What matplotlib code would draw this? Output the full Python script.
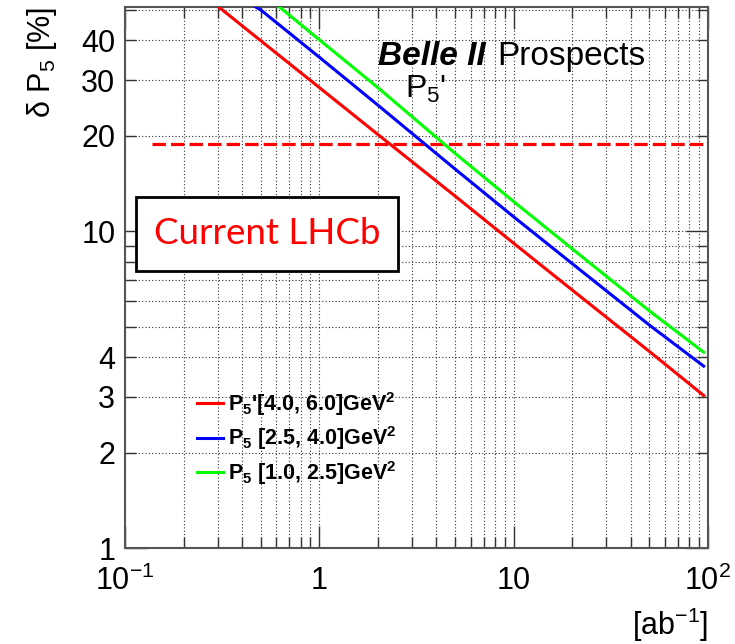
import numpy as np
import matplotlib
matplotlib.use("Agg")
import matplotlib.pyplot as plt
from matplotlib.lines import Line2D
from matplotlib.patches import Rectangle
from matplotlib.ticker import FixedLocator, FixedFormatter, NullFormatter

plt.rcParams['font.family'] = ['Liberation Sans', 'DejaVu Sans']
plt.rcParams['mathtext.fontset'] = 'custom'
plt.rcParams['mathtext.rm'] = 'Liberation Sans'
plt.rcParams['mathtext.it'] = 'Liberation Sans:italic'
plt.rcParams['mathtext.bf'] = 'Liberation Sans:bold'

# luminosite integree [ab^-1] et precision sur P5' [%]
lumi = [0.3, 0.5, 1, 2, 5, 10, 20, 50, 95]
dp5_high = [51.3, 39.9, 28.4, 20.2, 12.9, 9.16, 6.52, 4.17, 3.03]   # [4.0, 6.0] GeV2
dp5_mid = [60.0, 49.9, 35.4, 25.0, 15.7, 11.1, 7.9, 5.05, 3.75]     # [2.5, 4.0] GeV2
dp5_low = [64.0, 57.0, 40.2, 28.4, 17.6, 12.4, 8.8, 5.6, 4.15]      # [1.0, 2.5] GeV2
lhcb_x = [0.138, 97]
lhcb_y = [18.8, 18.8]

labels = [r"P$_\mathbf{5}$'[4.0, 6.0]GeV$^\mathbf{2}$",
          r"P$_\mathbf{5}$ [2.5, 4.0]GeV$^\mathbf{2}$",
          r"P$_\mathbf{5}$ [1.0, 2.5]GeV$^\mathbf{2}$"]
colors = ['#ff0000', '#0000ff', '#00ff00']

W, H = 735, 644
fig = plt.figure(figsize=(W / 100, H / 100), dpi=100)
ax = fig.add_axes([125 / W, 1 - 548 / H, 583 / W, 541 / H])
ax.set_xscale('log')
ax.set_yscale('log')
ax.set_xlim(0.1, 100)
ax.set_ylim(1, 51)
ax.set_axisbelow(True)

ax.plot(lhcb_x, lhcb_y, color='#ff0000', lw=2.3, dashes=(4.2, 1.6), zorder=2)
for yy, c in zip([dp5_high, dp5_mid, dp5_low], colors):
    ax.plot(lumi, yy, color=c, lw=2.2, zorder=3)

# ticks facon ROOT
ax.xaxis.set_major_locator(FixedLocator([0.1, 1, 10, 100]))
ax.xaxis.set_major_formatter(FixedFormatter([r"$10^{-1}$", "1", "10", r"$10^{2}$"]))
xminor = [m * d for d in [0.1, 1, 10] for m in range(2, 10)]
ax.xaxis.set_minor_locator(FixedLocator(xminor))
ax.xaxis.set_minor_formatter(NullFormatter())

ax.yaxis.set_major_locator(FixedLocator([1, 10]))
ax.yaxis.set_major_formatter(FixedFormatter(["1", "10"]))
yminor = [2, 3, 4, 5, 6, 7, 8, 9, 20, 30, 40, 50]
ax.yaxis.set_minor_locator(FixedLocator(yminor))
ax.yaxis.set_minor_formatter(FixedFormatter(["2", "3", "4", "", "", "", "", "", "20", "30", "40", ""]))

ax.tick_params(which='both', direction='in', top=True, right=True, labelsize=22,
               width=1, color='#333333')
ax.tick_params(which='major', length=16)
ax.tick_params(which='minor', length=8)
ax.tick_params(axis='x', which='both', pad=13)
ax.tick_params(axis='y', which='both', pad=7)
ax.grid(which='both', linestyle=(0, (1, 2)), color='#333333', lw=0.8)
for s in ax.spines.values():
    s.set_color('#555555')
    s.set_linewidth(1.5)

ax.set_ylabel(r"δ P$_5$ [%]", fontsize=22, loc='top', labelpad=16)
ax.set_xlabel(r"[ab$^{-1}$]", fontsize=22, loc='right', labelpad=6)

# textes
fig.text(378 / W, 1 - 65 / H, "Belle II", fontsize=24, weight='bold', style='italic', va='baseline')
fig.text(497 / W, 1 - 65 / H, "Prospects", fontsize=24, va='baseline')
fig.text(405 / W, 1 - 98 / H, r"P$_5$'", fontsize=23, va='baseline')

# boite LHCb
box = Rectangle((136 / W, 1 - 271 / H), 262 / W, 74 / H, transform=fig.transFigure,
                facecolor='white', edgecolor='black', lw=2, zorder=4)
ax.add_patch(box)
ax.text(267 / W, 1 - 234 / H, "Current LHCb", transform=fig.transFigure, fontsize=26.5,
        family='Lato', color='#ff0000', ha='center', va='center', zorder=5)

handles = [Line2D([], [], color=c, lw=2.2) for c in colors]
leg = ax.legend(handles, labels, loc='upper left', bbox_to_anchor=(0.1235, 0.292),
                frameon=False, borderaxespad=0, borderpad=0, handlelength=1.2,
                handletextpad=0.25, labelspacing=0.3,
                prop={'size': 15.5, 'weight': 'bold'})

fig.savefig("out.png", dpi=100)
